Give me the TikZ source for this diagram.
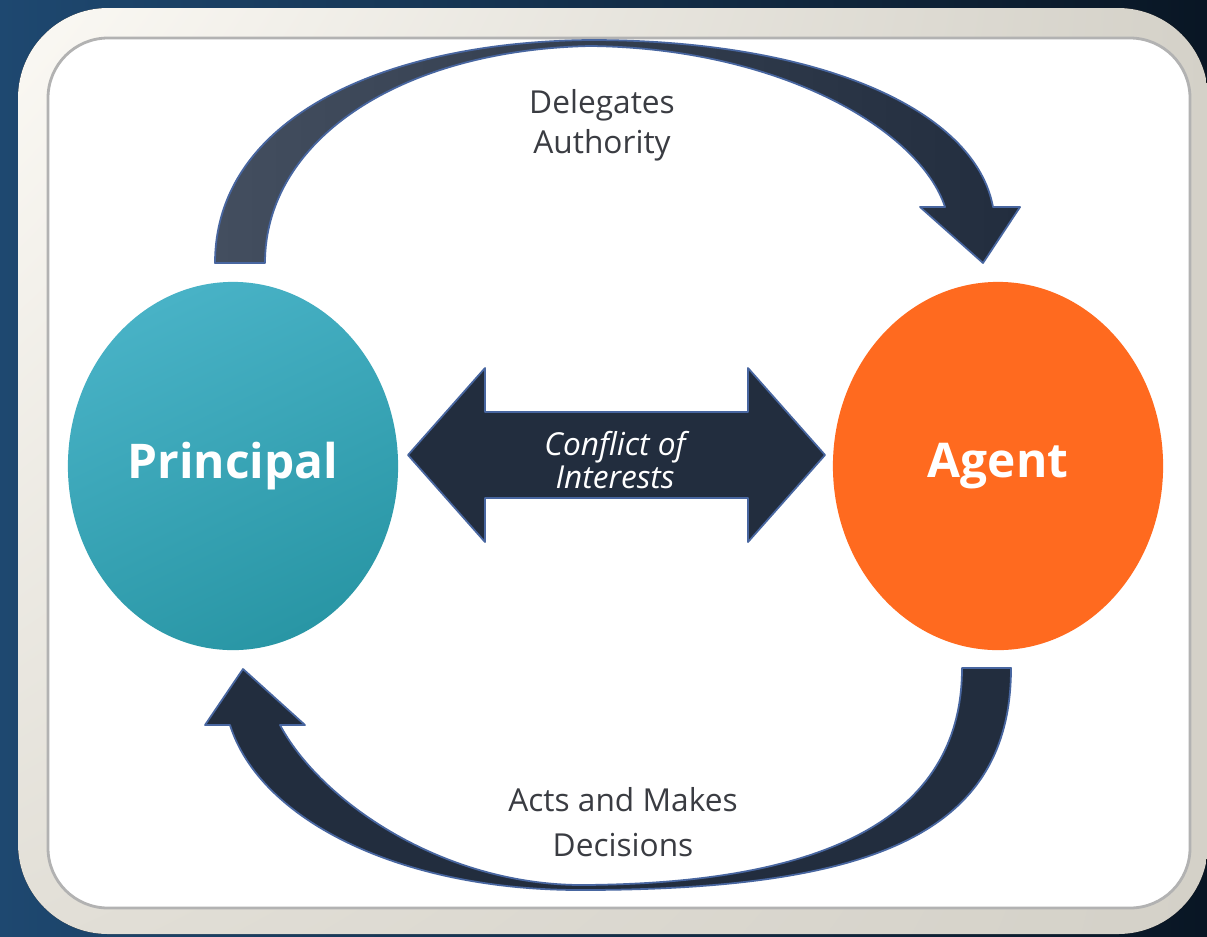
\documentclass[tikz,border=0pt]{standalone}
\usepackage{fontspec}
\setmainfont{Open Sans}
\usetikzlibrary{shapes.geometric,shadings}

\definecolor{bgleft}{RGB}{30,72,112}
\definecolor{bgright}{RGB}{9,22,36}
\definecolor{framelight}{RGB}{251,249,244}
\definecolor{framemid}{RGB}{226,223,215}
\definecolor{framedark}{RGB}{212,209,200}
\definecolor{navy}{RGB}{34,45,62}
\definecolor{navylight}{RGB}{67,78,95}
\definecolor{glow}{RGB}{72,102,160}
\definecolor{tealtop}{RGB}{72,178,198}
\definecolor{tealbottom}{RGB}{41,150,165}
\definecolor{agentorange}{RGB}{255,106,31}
\definecolor{labelgray}{RGB}{58,60,66}

\begin{document}
\begin{tikzpicture}[x=0.01cm, y=-0.01cm,
	blockarrow/.style={fill=navy, draw=glow, line width=0.5pt, line join=round},
	party/.style={ellipse, inner sep=0pt, minimum width=3.3cm, minimum height=3.68cm,
		text=white, font=\fontsize{13.6}{16}\selectfont\bfseries},
	flowlabel/.style={align=center, text=labelgray}]

		\useasboundingbox (0,0) rectangle (1207,936);

		% draw background and frame
		\fill[left color=bgleft, right color=bgright] (0,0) rectangle (1207,936);
		\fill[upper left=framelight, upper right=framedark, lower left=framemid, lower right=framedark,
			rounded corners=0.9cm] (18,8) rectangle (1208,934);
		\fill[white, draw=black!30, line width=0.8pt, rounded corners=0.6cm] (48,38) rectangle (1190,908);

		% draw the two parties
		\node[party, top color=tealtop, bottom color=tealbottom, shading angle=25] (principal) at (233,466) {Principal};
		\node[party, fill=agentorange] (agent) at (998,466) {Agent};

		% draw upper arrow
		\draw[blockarrow, left color=navylight, right color=navy]
			(215,263) .. controls (215,120) and (380,42) .. (590,40)
			.. controls (820,40) and (975,110) .. (993,207)
			-- (1020,207) -- (983,263) -- (920,207) -- (945,207)
			.. controls (920,130) and (780,48) .. (590,46)
			.. controls (400,50) and (265,140) .. (265,263) -- cycle;

		% draw lower arrow
		\draw[blockarrow]
			(1011,668) .. controls (1011,830) and (880,890) .. (580,890)
			.. controls (400,890) and (260,820) .. (230,725)
			-- (205,725) -- (243,669) -- (305,725) -- (280,725)
			.. controls (320,800) and (440,884) .. (580,885)
			.. controls (840,884) and (962,810) .. (962,668) -- cycle;

		% draw double arrow
		\draw[blockarrow]
			(408,455) -- (485,368) -- (485,412) -- (748,412) -- (748,368) -- (825,455)
			-- (748,542) -- (748,498) -- (485,498) -- (485,542) -- cycle;

		% labels
		\node[flowlabel, font=\fontsize{9}{11.4}\selectfont] (delegates) at (602,125) {Delegates\\Authority};
		\node[flowlabel, font=\fontsize{9}{12.8}\selectfont] (acts) at (623,822) {Acts and Makes\\Decisions};
		\node[align=center, text=white, font=\fontsize{9}{9.2}\selectfont\itshape] (conflict) at (615,460) {Conflict of\\Interests};

	\end{tikzpicture}
\end{document}
